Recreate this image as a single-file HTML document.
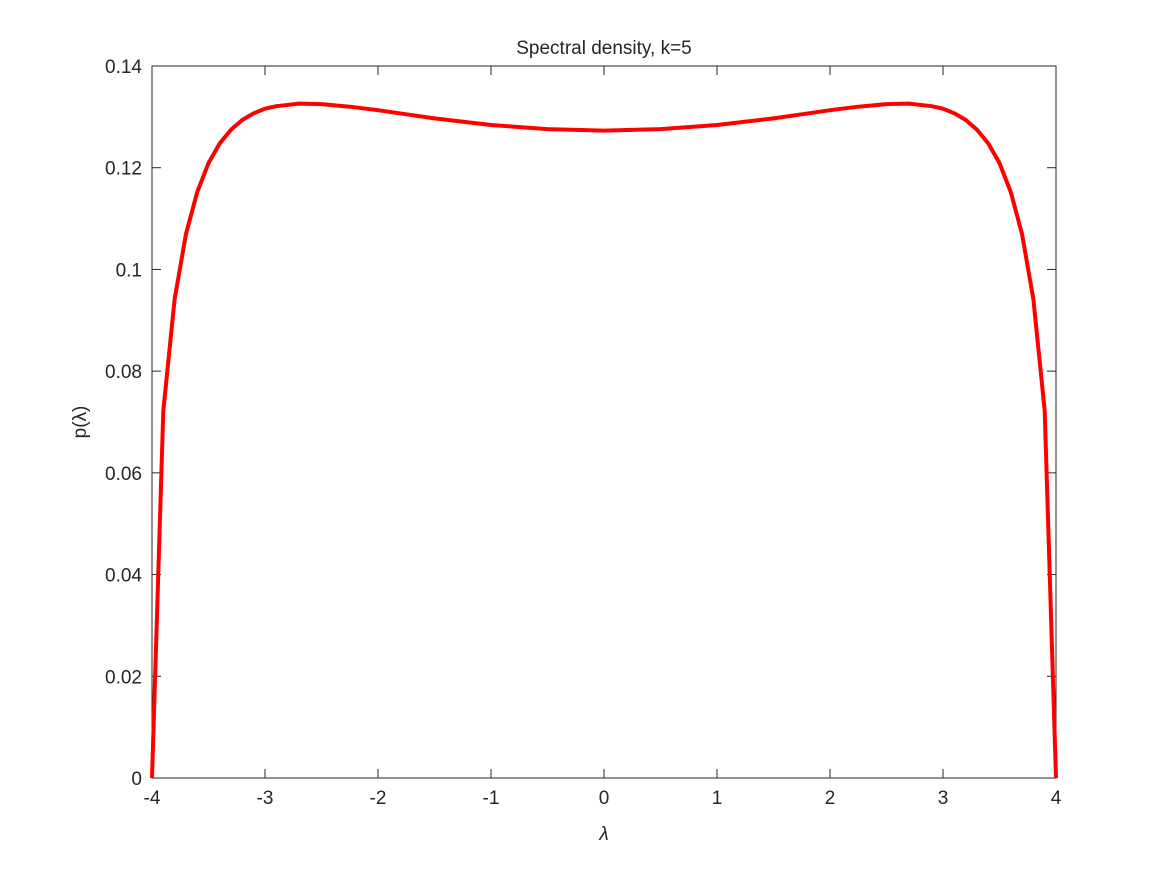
<!DOCTYPE html>
<html><head><meta charset="utf-8">
<style>
body{margin:0;background:#fff;}
svg text{font-family:"Liberation Sans",sans-serif;fill:#262626;}
</style></head>
<body>
<svg id="chart" width="1167" height="875" xmlns="http://www.w3.org/2000/svg">
<rect width="1167" height="875" fill="#fff"/>
<g id="axes"></g>
<text x="604" y="54" text-anchor="middle" font-size="19">Spectral density, k=5</text>
<text x="604" y="840" text-anchor="middle" font-size="19" font-style="italic">λ</text>
<text transform="translate(86,422) rotate(-90)" text-anchor="middle" font-size="19">p(λ)</text>
</svg>
<script>
const lams=[-4,-3.9,-3.8,-3.7,-3.6,-3.5,-3.4,-3.3,-3.2,-3.1,-3,-2.9,-2.7,-2.5,-2.25,-2,-1.75,-1.5,-1,-0.5,0,0.5,1,1.5,1.75,2,2.25,2.5,2.7,2.9,3,3.1,3.2,3.3,3.4,3.5,3.6,3.7,3.8,3.9,4];
const vals=[0,0.0722,0.0941,0.1069,0.1152,0.1209,0.1248,0.1275,0.1294,0.1307,0.1316,0.1321,0.1326,0.1325,0.1320,0.1313,0.1305,0.1297,0.1284,0.1276,0.1273,0.1276,0.1284,0.1297,0.1305,0.1313,0.1320,0.1325,0.1326,0.1321,0.1316,0.1307,0.1294,0.1275,0.1248,0.1209,0.1152,0.1069,0.0941,0.0722,0];
const xTicks=[-4,-3,-2,-1,0,1,2,3,4];
const yTicks=[0,0.02,0.04,0.06,0.08,0.1,0.12,0.14];
const yTickLabels=["0","0.02","0.04","0.06","0.08","0.1","0.12","0.14"];
const L=152,R=1056,T=66,B=778;
const xs=v=>L+(v+4)/8*(R-L);
const ys=v=>B-v/0.14*(B-T);
const NS="http://www.w3.org/2000/svg";
const g=document.getElementById('axes');
function mk(t,a){const e=document.createElementNS(NS,t);for(const k in a)e.setAttribute(k,a[k]);return e;}
const box=mk('rect',{x:L,y:T,width:R-L,height:B-T,fill:'none',stroke:'#262626','stroke-width':1});


g.appendChild(box);
xTicks.forEach(v=>{
  const x=xs(v);
  const t1=mk('line',{x1:x,y1:B,x2:x,y2:B-9,stroke:'#262626'});
  
  
  g.appendChild(t1);
  const t2=mk('line',{x1:x,y1:T,x2:x,y2:T+9,stroke:'#262626'});
  
  
  g.appendChild(t2);
  const tx=mk('text',{x:x,y:B+26,'text-anchor':'middle','font-size':19});
  
  
  tx.textContent=String(v);g.appendChild(tx);
});
yTicks.forEach((v,i)=>{
  const y=ys(v);
  const t1=mk('line',{x1:L,y1:y,x2:L+9,y2:y,stroke:'#262626'});
  
  
  g.appendChild(t1);
  const t2=mk('line',{x1:R,y1:y,x2:R-9,y2:y,stroke:'#262626'});
  
  
  g.appendChild(t2);
  const tx=mk('text',{x:L-10,y:y+7,'text-anchor':'end','font-size':19});
  
  
  tx.textContent=yTickLabels[i];g.appendChild(tx);
});
const pts=lams.map((l,i)=>xs(l).toFixed(1)+','+ys(vals[i]).toFixed(1)).join(' ');
const line=mk('polyline',{points:pts,fill:'none',stroke:'#ff0000','stroke-width':4,'stroke-linejoin':'round'});


g.appendChild(line);
</script>
</body></html>
